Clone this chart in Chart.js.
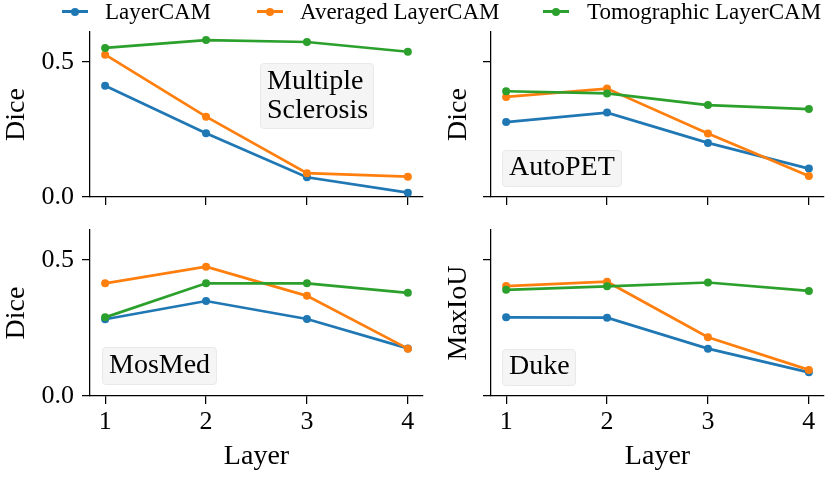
<!DOCTYPE html>
<html>
<head>
<meta charset="utf-8">
<script src="https://cdn.jsdelivr.net/npm/chart.js@4/dist/chart.umd.min.js"></script>
<style>
  html, body { margin: 0; padding: 0; background: #fff; }
  #root { position: relative; width: 830px; height: 477px; overflow: hidden;
          font-family: 'Liberation Serif', 'Times New Roman', serif; color: #000; }
  .panel { position: absolute; }
  .panel canvas { display: block; }
  .lg-line { position: absolute; height: 2.7px; }
  .lg-dot { position: absolute; width: 8px; height: 8px; border-radius: 50%; }
  .lg-text { position: absolute; top: -0.5px; font-size: 23px; line-height: 24px; white-space: nowrap; }
  .tag { position: absolute; box-sizing: border-box; background: #f5f5f5; border: 1px solid #e9e9e9;
         border-radius: 4px; font-size: 28px; line-height: 28.5px; white-space: pre; padding-left: 6px; }
</style>
</head>
<body>
<div id="root">
  <div class="panel" style="left:0;top:0;"><canvas id="c1" width="430" height="215"></canvas></div>
  <div class="panel" style="left:430px;top:0;"><canvas id="c2" width="400" height="215"></canvas></div>
  <div class="panel" style="left:0;top:215px;"><canvas id="c3" width="430" height="262"></canvas></div>
  <div class="panel" style="left:430px;top:215px;"><canvas id="c4" width="400" height="262"></canvas></div>
  <div id="legend"></div>
  <div class="tag" style="left:260px;top:63px;width:114px;height:66px;padding-top:2.3px;">Multiple
Sclerosis</div>
  <div class="tag" style="left:502px;top:150px;width:120px;height:37px;padding-top:0.5px;">AutoPET</div>
  <div class="tag" style="left:102px;top:347px;width:115px;height:38px;padding-top:2px;">MosMed</div>
  <div class="tag" style="left:502px;top:349px;width:74px;height:37px;padding-top:0.5px;">Duke</div>
</div>
<script>
// ---- data ----
const layers = [1, 2, 3, 4];
const seriesNames = ['LayerCAM', 'Averaged LayerCAM', 'Tomographic LayerCAM'];
const seriesColors = ['#1f77b4', '#ff7f0e', '#2ca02c'];
const yTickValues = [0.0, 0.5];

// Multiple Sclerosis (Dice)
const msLayerCAM     = [0.411, 0.236, 0.073, 0.016];
const msAveraged     = [0.526, 0.297, 0.088, 0.075];
const msTomographic  = [0.551, 0.580, 0.573, 0.537];
// AutoPET (Dice)
const apLayerCAM     = [0.277, 0.312, 0.200, 0.105];
const apAveraged     = [0.370, 0.401, 0.235, 0.078];
const apTomographic  = [0.391, 0.383, 0.340, 0.325];
// MosMed (Dice)
const mmLayerCAM     = [0.282, 0.349, 0.283, 0.175];
const mmAveraged     = [0.414, 0.475, 0.368, 0.174];
const mmTomographic  = [0.289, 0.414, 0.414, 0.379];
// Duke (MaxIoU)
const dkLayerCAM     = [0.289, 0.288, 0.174, 0.087];
const dkAveraged     = [0.404, 0.420, 0.216, 0.096];
const dkTomographic  = [0.390, 0.403, 0.417, 0.386];

const FAMILY = "'Liberation Serif', 'Times New Roman', serif";

// ---- legend (HTML) ----
(function () {
  const lg = document.getElementById('legend');
  const lineLeft = [62, 256.7, 543];
  const textLeft = [105, 300, 587];
  seriesNames.forEach((name, i) => {
    const l = document.createElement('div');
    l.className = 'lg-line';
    l.style.left = lineLeft[i] + 'px'; l.style.top = (11.7 - 1.35) + 'px';
    l.style.width = '26px'; l.style.background = seriesColors[i];
    const d = document.createElement('div');
    d.className = 'lg-dot';
    d.style.left = (lineLeft[i] + 13 - 4) + 'px'; d.style.top = (11.7 - 4) + 'px';
    d.style.background = seriesColors[i];
    const t = document.createElement('div');
    t.className = 'lg-text';
    t.style.left = textLeft[i] + 'px';
    t.textContent = name;
    lg.appendChild(l); lg.appendChild(d); lg.appendChild(t);
  });
})();

// ---- panels ----
function zeroPad(s) { s.paddingTop = 0; s.paddingBottom = 0; s.paddingLeft = 0; s.paddingRight = 0; }

function makePanel(id, seriesList, o) {
  new Chart(document.getElementById(id), {
    type: 'line',
    data: {
      datasets: seriesList.map((vals, i) => ({
        label: seriesNames[i],
        data: layers.map((x, j) => ({ x: x, y: vals[j] })),
        borderColor: seriesColors[i],
        backgroundColor: seriesColors[i],
        borderWidth: 2.7,
        pointRadius: 4,
        pointHoverRadius: 4,
        pointBorderWidth: 0,
        tension: 0,
        fill: false,
        clip: false,
        order: 2 - i
      }))
    },
    options: {
      responsive: false,
      animation: false,
      devicePixelRatio: 1,
      events: [],
      layout: { padding: { left: 0, top: o.top, right: o.right, bottom: 0 } },
      plugins: { legend: { display: false }, tooltip: { enabled: false } },
      scales: {
        x: {
          type: 'linear', min: 0.85, max: 4.15,
          afterBuildTicks: s => { s.ticks = layers.map(v => ({ value: v })); },
          afterFit: s => { s.height = o.xh; zeroPad(s); },
          grid: { drawOnChartArea: false, drawTicks: true, tickLength: 8, color: '#000', lineWidth: 1.25 },
          border: { display: true, color: '#000', width: 1.25 },
          ticks: { display: o.xlabels, padding: 3, color: '#000', maxRotation: 0,
                   font: { family: FAMILY, size: 26 }, callback: v => String(v) },
          title: { display: o.xlabels, text: 'Layer', color: '#000',
                   font: { family: FAMILY, size: 28 }, padding: { top: 0, bottom: 3.7 } }
        },
        y: {
          type: 'linear', min: 0, max: 0.61,
          afterBuildTicks: s => { s.ticks = yTickValues.map(v => ({ value: v })); },
          afterFit: s => { s.width = o.yw; zeroPad(s); },
          grid: { drawOnChartArea: false, drawTicks: true, tickLength: 8, color: '#000', lineWidth: 1.25 },
          border: { display: true, color: '#000', width: 1.25 },
          ticks: { display: o.ylabels, padding: 8, color: '#000',
                   font: { family: FAMILY, size: 26 }, callback: v => Number(v).toFixed(1) },
          title: { display: true, text: o.ytitle, color: '#000',
                   font: { family: FAMILY, size: 28 }, padding: { top: o.ytp, bottom: 0 } }
        }
      }
    }
  });
}

makePanel('c1', [msLayerCAM, msAveraged, msTomographic],
  { top: 32, right: 7, xh: 18, yw: 90, xlabels: false, ylabels: true, ytitle: 'Dice', ytp: 0 });
makePanel('c2', [apLayerCAM, apAveraged, apTomographic],
  { top: 32, right: 6, xh: 18, yw: 61, xlabels: false, ylabels: false, ytitle: 'Dice', ytp: 12.2 });
makePanel('c3', [mmLayerCAM, mmAveraged, mmTomographic],
  { top: 15, right: 7, xh: 81, yw: 90, xlabels: true, ylabels: true, ytitle: 'Dice', ytp: 0 });
makePanel('c4', [dkLayerCAM, dkAveraged, dkTomographic],
  { top: 15, right: 6, xh: 81, yw: 61, xlabels: true, ylabels: false, ytitle: 'MaxIoU', ytp: 12.2 });
</script>
</body>
</html>
